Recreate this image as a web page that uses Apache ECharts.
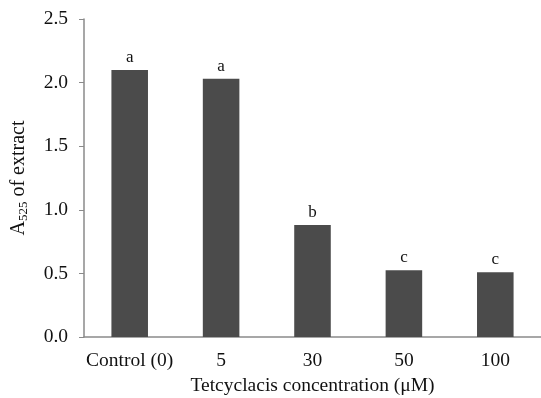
<!DOCTYPE html>
<html>
<head>
<meta charset="utf-8">
<script src="https://cdn.jsdelivr.net/npm/echarts@6/dist/echarts.min.js"></script>
<style>
  html, body { margin: 0; padding: 0; background: #fff; }
  #chart { width: 541px; height: 398px; }
</style>
</head>
<body>
<div id="chart"></div>
<script>
// 数据
var categories = ["Control (0)", "5", "30", "50", "100"];
var values = [2.10, 2.03, 0.88, 0.525, 0.51];
var letters = ["a", "a", "b", "c", "c"];

var font = "Liberation Serif";
var myChart = echarts.init(document.getElementById("chart"));

var option = {
  animation: false,
  grid: { left: 84, top: 19, right: 0, bottom: 61, outerBoundsMode: "none" },
  xAxis: {
    type: "category",
    data: categories,
    name: "Tetcyclacis concentration (μM)",
    nameLocation: "middle",
    nameGap: 35,
    nameTextStyle: { fontFamily: font, fontSize: 19.5, color: "#111" },
    axisLine: { lineStyle: { color: "#8a8a8a", width: 1.5 } },
    axisTick: { show: false },
    axisLabel: { interval: 0, fontFamily: font, fontSize: 19.5, color: "#111", margin: 14 }
  },
  yAxis: {
    type: "value",
    min: 0,
    max: 2.5,
    interval: 0.5,
    name: "{a|A}{s|525}{a| of extract}",
    nameLocation: "middle",
    nameGap: 54,
    nameTextStyle: {
      rich: {
        a: { fontFamily: font, fontSize: 20, color: "#111" },
        s: { fontFamily: font, fontSize: 13, color: "#111", verticalAlign: "bottom", padding: [9, 0, 0, 0] }
      }
    },
    splitLine: { show: false },
    axisLine: { show: true, lineStyle: { color: "#8a8a8a", width: 1.5 } },
    axisTick: { show: true, length: 5, lineStyle: { color: "#8a8a8a" } },
    axisLabel: {
      fontFamily: font, fontSize: 19.5, color: "#111", margin: 16,
      formatter: function (v) { return v.toFixed(1); }
    }
  },
  series: [
    {
      type: "bar",
      data: values,
      barWidth: "40%",
      itemStyle: { color: "#4b4b4b" },
      label: {
        show: true,
        position: "top",
        distance: 4,
        fontFamily: font,
        fontSize: 17,
        color: "#111",
        formatter: function (p) { return letters[p.dataIndex]; }
      }
    }
  ]
};

myChart.setOption(option);
</script>
</body>
</html>
